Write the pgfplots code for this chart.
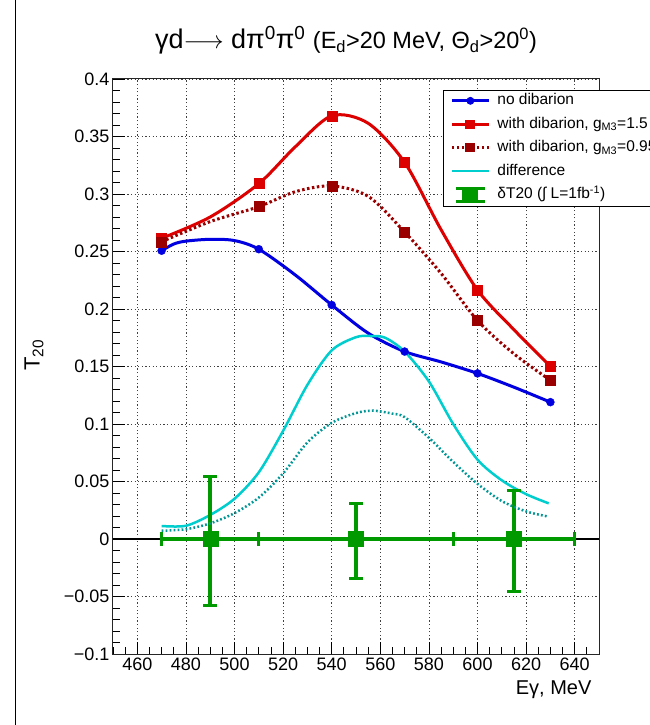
\documentclass[border=0pt]{standalone}
\usepackage{fontspec}
\setmainfont{Liberation Sans}
\usepackage{pgfplots}
\pgfplotsset{compat=1.18}
\definecolor{myblue}{RGB}{0,0,225}
\definecolor{myred}{RGB}{220,0,0}
\definecolor{mydarkred}{RGB}{155,0,0}
\definecolor{mycyan}{RGB}{0,205,205}
\definecolor{myteal}{RGB}{0,150,150}
\definecolor{mygreen}{RGB}{0,153,0}
\begin{document}
\begin{tikzpicture}
\begin{axis}[
  scale only axis, width=486pt, height=575pt,
  xmin=450, xmax=650, ymin=-0.1, ymax=0.4,
  xtick={460,480,500,520,540,560,580,600,620,640},
  ytick={-0.1,-0.05,0,0.05,0.1,0.15,0.2,0.25,0.3,0.35,0.4},
  yticklabels={−0.1,−0.05,0,0.05,0.1,0.15,0.2,0.25,0.3,0.35,0.4},
  minor xtick={450,455,...,650},
  minor ytick={-0.1,-0.09,...,0.4},
  tick pos=left, tick align=inside,
  major tick length=12pt, minor tick length=7pt,
  tick style={black, line width=0.8pt},
  grid=major,
  major grid style={black!75, line width=0.7pt, dash pattern=on 1.2pt off 2.4pt},
  axis line style={line width=1pt, black!85},
  ticklabel style={font=\fontsize{18}{20}\selectfont},
  /pgf/number format/assume math mode=true,
  legend style={at={(0.679,0.981)}, anchor=north west, draw=black, line width=0.8pt,
    fill=white, font=\fontsize{15.5}{18}\selectfont, inner xsep=7pt, inner ysep=3pt,
    row sep=8.4pt, cells={anchor=west},
    nodes={inner sep=0pt, text height=11.5pt, text depth=3.5pt},
    /tikz/every odd column/.append style={column sep=7pt}},
  legend cell align=left,
]
% zero line
\addplot[black, line width=2.5pt, forget plot] coordinates {(450,0) (650,0)};

% no dibarion
\addplot[myblue, line width=3pt, smooth, forget plot] coordinates {
 (470,0.2507)(475,0.2565)(480,0.259)(490,0.2606)(500,0.2595)(510,0.252)(525,0.2296)
 (540,0.2035)(555,0.179)(570,0.163)(585,0.154)(600,0.144)(615,0.132)(630,0.119)};
\addplot[only marks, myblue, mark=*, mark size=4pt,
  legend image code/.code={\draw[myblue, line width=3pt] (0pt,0pt)--(37pt,0pt); \fill[myblue] (18.5pt,0pt) circle (3.5pt);}]
  coordinates {(470,0.2507)(510,0.252)(540,0.2035)(570,0.163)(600,0.144)(630,0.119)};
\addlegendentry{no dibarion}

% with dibarion 1.5
\addplot[myred, line width=3pt, smooth, forget plot] coordinates {
 (470,0.2615)(490,0.280)(510,0.309)(525,0.341)(540,0.368)(555,0.3615)
 (570,0.3275)(585,0.269)(600,0.2165)(615,0.182)(630,0.150)};
\addplot[only marks, myred, mark=square*, mark size=5pt,
  legend image code/.code={\draw[myred, line width=3pt] (0pt,0pt)--(37pt,0pt); \fill[myred] (14pt,-4pt) rectangle (23pt,4pt);}]
  coordinates {(470,0.2615)(510,0.309)(540,0.368)(570,0.3275)(600,0.2165)(630,0.150)};
\addlegendentry{with dibarion, g\textsubscript{M3}=1.5}

% with dibarion 0.95
\addplot[mydarkred, line width=3pt, smooth, dash pattern=on 2.5pt off 2.5pt, forget plot] coordinates {
 (470,0.2585)(490,0.276)(510,0.289)(525,0.302)(540,0.307)(555,0.298)(570,0.267)
 (585,0.231)(600,0.190)(615,0.161)(630,0.138)};
\addplot[only marks, mydarkred, mark=square*, mark size=5pt,
  legend image code/.code={\draw[mydarkred, line width=3pt, dash pattern=on 2.5pt off 2.5pt] (0pt,0pt)--(37pt,0pt); \fill[mydarkred] (14pt,-4pt) rectangle (23pt,4pt);}]
  coordinates {(470,0.2585)(510,0.289)(540,0.307)(570,0.267)(600,0.190)(630,0.138)};
\addlegendentry{with dibarion, g\textsubscript{M3}=0.95}

% difference
\addplot[mycyan, line width=2.5pt, smooth,
  legend image code/.code={\draw[mycyan, line width=2.5pt] (0pt,0pt)--(37pt,0pt);}] coordinates {
 (470,0.0113)(480,0.0115)(490,0.0209)(500,0.035)(510,0.058)(520,0.094)(530,0.134)
 (540,0.164)(550,0.1755)(556,0.1765)(562,0.175)(570,0.163)(580,0.137)(590,0.100)
 (600,0.069)(610,0.051)(620,0.039)(629.3,0.031)};
\addlegendentry{difference}

% dT20
\addplot[only marks, mygreen, mark=square*, mark size=7.5pt,
  error bars/.cd, x dir=both, x explicit, y dir=both, y explicit,
  error bar style={line width=3.5pt, mygreen},
  error mark options={rotate=90, line width=3pt, mark size=7pt, mygreen},
  /pgfplots/legend image code/.code={\draw[mygreen, line width=3pt] (4pt,6.5pt)--(33pt,6.5pt); \draw[mygreen, line width=3pt] (4pt,-6.5pt)--(33pt,-6.5pt); \fill[mygreen] (11pt,-6.5pt) rectangle (26pt,6.5pt);}]
  coordinates {
  (490,0) += (20,0.054) -= (20,0.058)
  (550,0) += (40,0.031) -= (40,0.034)
  (615,0) += (25,0.042) -= (25,0.046)};
\addlegendentry{δT20 (∫ L=1fb\textsuperscript{-1})}

% difference, dotted
\addplot[myteal, line width=2.5pt, smooth, dash pattern=on 1.8pt off 2.2pt, forget plot] coordinates {
 (470,0.0072)(480,0.0085)(490,0.0136)(500,0.0225)(510,0.036)(520,0.057)(530,0.084)
 (540,0.101)(550,0.1095)(557,0.1116)(565,0.109)(570,0.106)(580,0.088)(590,0.067)
 (600,0.048)(610,0.033)(620,0.024)(629.3,0.0194)};
\end{axis}
\node[anchor=center, font=\fontsize{27}{30}\selectfont] at (233pt,614pt)
  {γd$\longrightarrow$ dπ\textsuperscript{0}π\textsuperscript{0} {\fontsize{23.5}{26}\selectfont (E\textsubscript{d}>20 MeV, Θ\textsubscript{d}>20\textsuperscript{0})}};
\node[rotate=90, font=\fontsize{22}{24}\selectfont] at (-79pt,299pt) {T\textsubscript{20}};
\node[anchor=east, font=\fontsize{20}{22}\selectfont] at (482pt,-36pt) {Eγ, MeV};
\draw[black, line width=1pt] (-97pt,-71pt) -- (-97pt,654pt);
\pgfresetboundingbox
\useasboundingbox (-113pt,-71pt) rectangle (537pt,654pt);
\end{tikzpicture}
\end{document}
